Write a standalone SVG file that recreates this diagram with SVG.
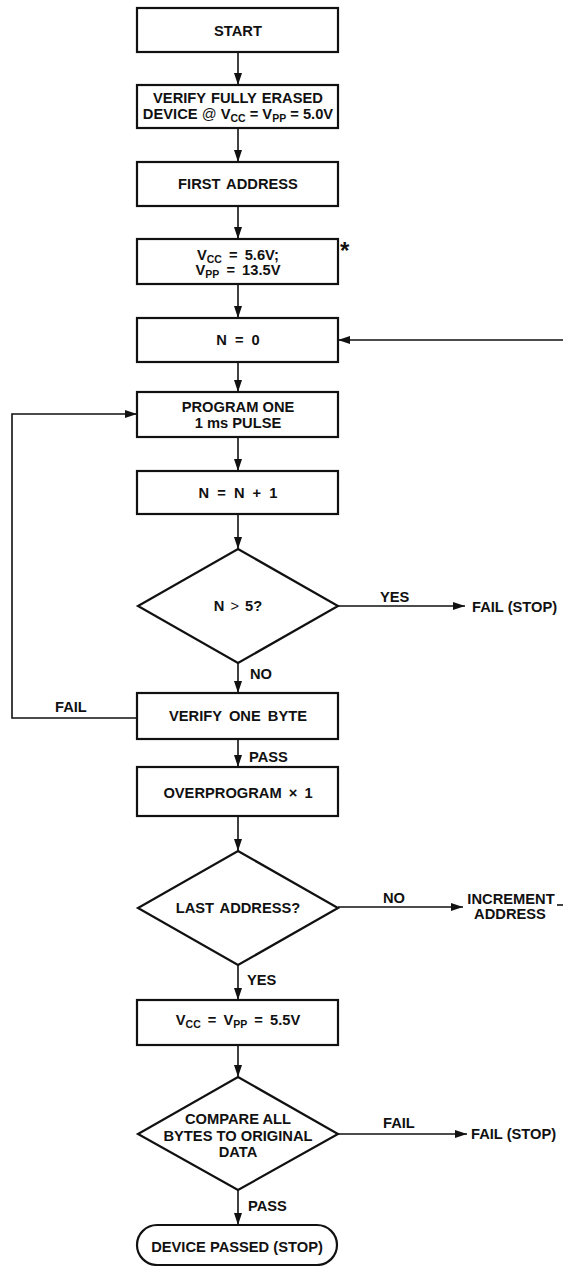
<svg xmlns="http://www.w3.org/2000/svg" width="563" height="1266" viewBox="0 0 563 1266">
<defs>
<marker id="ah" viewBox="0 0 12 8" refX="12" refY="4" markerWidth="12" markerHeight="8" markerUnits="userSpaceOnUse" orient="auto">
<path d="M0,0 L12,4 L0,8 z" fill="#111"/>
</marker>
</defs>
<style>
.box{fill:#fff;stroke:#111;stroke-width:2.2}
.t{font-family:"Liberation Sans",Arial,sans-serif;font-weight:bold;font-size:14.7px;fill:#111;text-anchor:middle}
.l{font-family:"Liberation Sans",Arial,sans-serif;font-weight:bold;font-size:14.7px;fill:#111}
.sub{font-size:10.5px}
.star{font-family:"Liberation Sans",Arial,sans-serif;font-weight:bold;font-size:24px;fill:#111}
.c{fill:none;stroke:#111;stroke-width:1.6}
.a{fill:none;stroke:#111;stroke-width:1.6;marker-end:url(#ah)}
</style>
<rect width="563" height="1266" fill="#fff"/>
<g id="connectors">
<line class="a" x1="238" y1="52" x2="238" y2="85"/>
<line class="a" x1="238" y1="128" x2="238" y2="162"/>
<line class="a" x1="238" y1="206" x2="238" y2="239"/>
<line class="a" x1="238" y1="284" x2="238" y2="318"/>
<line class="a" x1="563" y1="340" x2="338" y2="340"/>
<line class="a" x1="238" y1="362" x2="238" y2="392"/>
<line class="a" x1="238" y1="437" x2="238" y2="471"/>
<line class="a" x1="238" y1="514" x2="238" y2="549"/>
<line class="a" x1="338" y1="606" x2="465" y2="606"/>
<line class="a" x1="238" y1="663" x2="238" y2="693"/>
<polyline class="a" points="137,718 12,718 12,414 137,414"/>
<line class="a" x1="238" y1="739" x2="238" y2="767"/>
<line class="a" x1="238" y1="816" x2="238" y2="851"/>
<line class="a" x1="338" y1="907" x2="463" y2="907"/>
<line class="c" x1="557" y1="905" x2="563" y2="905"/>
<line class="a" x1="238" y1="965" x2="238" y2="1000"/>
<line class="a" x1="238" y1="1045" x2="238" y2="1077"/>
<line class="a" x1="338" y1="1134" x2="467" y2="1134"/>
<line class="a" x1="238" y1="1190" x2="238" y2="1225"/>
<text class="l" x="380" y="602">YES</text>
<text class="l" x="250" y="679">NO</text>
<text class="l" x="55" y="712">FAIL</text>
<text class="l" x="249" y="762">PASS</text>
<text class="l" x="383" y="903">NO</text>
<text class="l" x="247" y="985">YES</text>
<text class="l" x="383" y="1128">FAIL</text>
<text class="l" x="248" y="1211">PASS</text>
</g>
<g id="start"><rect class="box" x="137" y="8" width="201" height="44"/><text class="t" x="238" y="36">START</text></g>
<g id="verify-erased"><rect class="box" x="137" y="85" width="201" height="43"/>
<text class="t" x="238" y="103" word-spacing="1">VERIFY FULLY ERASED</text>
<text class="t" x="238" y="119">DEVICE <tspan font-weight="normal">@</tspan> V<tspan class="sub" dy="3">CC</tspan><tspan dy="-3"> = V</tspan><tspan class="sub" dy="3">PP</tspan><tspan dy="-3"> = 5.0V</tspan></text></g>
<g id="first-address"><rect class="box" x="137" y="162" width="201" height="44"/><text class="t" x="238" y="189" word-spacing="2">FIRST ADDRESS</text></g>
<g id="set-voltage"><rect class="box" x="137" y="239" width="201" height="45"/>
<text class="t" x="238" y="260" word-spacing="3">V<tspan class="sub" dy="3">CC</tspan><tspan dy="-3"> = 5.6V;</tspan></text>
<text class="t" x="238" y="275" word-spacing="3">V<tspan class="sub" dy="3">PP</tspan><tspan dy="-3"> = 13.5V</tspan></text>
<text class="star" x="340" y="259">*</text></g>
<g id="n-zero"><rect class="box" x="137" y="318" width="201" height="44"/><text class="t" x="238" y="345" word-spacing="4">N = 0</text></g>
<g id="program-pulse"><rect class="box" x="137" y="392" width="201" height="45"/>
<text class="t" x="238" y="412">PROGRAM ONE</text><text class="t" x="238" y="428">1 ms PULSE</text></g>
<g id="n-inc"><rect class="box" x="137" y="471" width="201" height="43"/><text class="t" x="238" y="498" word-spacing="4">N = N + 1</text></g>
<g id="n-check"><polygon class="box" points="238,549 338,606 238,663 138,606"/><text class="t" x="238" y="611" word-spacing="2">N <tspan font-weight="normal">&gt;</tspan> 5?</text></g>
<g id="fail-stop-1"><text class="l" x="472" y="612">FAIL (STOP)</text></g>
<g id="verify-byte"><rect class="box" x="137" y="693" width="201" height="46"/><text class="t" x="238" y="721" word-spacing="3">VERIFY ONE BYTE</text></g>
<g id="overprogram"><rect class="box" x="137" y="767" width="201" height="49"/><text class="t" x="238" y="798" word-spacing="3">OVERPROGRAM × 1</text></g>
<g id="last-address"><polygon class="box" points="238,851 338,908 238,965 138,908"/><text class="t" x="238" y="913" word-spacing="2">LAST ADDRESS?</text></g>
<g id="increment-address"><text class="t" x="511" y="904">INCREMENT</text><text class="t" x="510" y="919">ADDRESS</text></g>
<g id="read-voltage"><rect class="box" x="137" y="1000" width="201" height="45"/>
<text class="t" x="238" y="1025" word-spacing="3">V<tspan class="sub" dy="3">CC</tspan><tspan dy="-3"> = V</tspan><tspan class="sub" dy="3">PP</tspan><tspan dy="-3"> = 5.5V</tspan></text></g>
<g id="compare"><polygon class="box" points="238,1077 338,1134 238,1190 138,1134"/>
<text class="t" x="238" y="1124">COMPARE ALL</text><text class="t" x="238" y="1141">BYTES TO ORIGINAL</text><text class="t" x="238" y="1157">DATA</text></g>
<g id="fail-stop-2"><text class="l" x="471" y="1139">FAIL (STOP)</text></g>
<g id="device-passed"><rect class="box" x="137" y="1225" width="200" height="40" rx="20" ry="20"/><text class="t" x="237" y="1252">DEVICE PASSED (STOP)</text></g>
</svg>
